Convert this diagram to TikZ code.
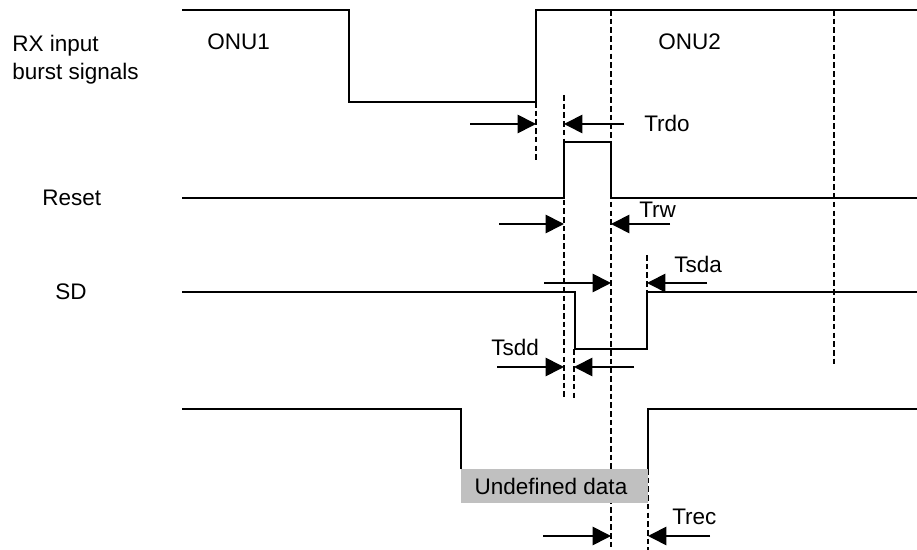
\documentclass[tikz,border=0pt]{standalone}
\usepackage{fontspec}
\setmainfont{Liberation Sans}
\usepackage{tikz}
\usetikzlibrary{arrows.meta}
\definecolor{undefgray}{RGB}{192,192,192}
\tikzset{
  wave/.style={line width=1.4pt},
  tmark/.style={line width=1.3pt,dash pattern=on 4pt off 2.2pt},
  dimarr/.style={line width=1.2pt,-{Triangle[length=13pt,width=13pt]}},
  lbl/.style={font=\fontsize{16}{20}\selectfont,inner sep=0pt,anchor=base west},
}

\begin{document}
\begin{tikzpicture}[x=0.025cm,y=-0.025cm]
  \useasboundingbox (0,0) rectangle (917,550);
  % time marks
  \draw[tmark] (611,10) -- (611,550);
  \draw[tmark] (834,10) -- (834,365);
  \draw[tmark] (536,102) -- (536,160);
  \draw[tmark] (564,95) -- (564,398);
  \draw[tmark] (574,349) -- (574,398);
  \draw[tmark] (647,255) -- (647,292);
  \draw[tmark] (648,469) -- (648,550);
  % undefined data window
  \fill[undefgray] (461,469) rectangle (648,503);
  \node[lbl,anchor=center] (undef) at (551,486) {Undefined data};
  % waveforms
  \draw[wave] (182,10) -- (349,10) -- (349,102) -- (536,102) -- (536,10) -- (917,10);
  \draw[wave] (182,198) -- (564,198) -- (564,142) -- (611,142) -- (611,198) -- (917,198);
  \draw[wave] (182,292) -- (575,292) -- (575,349) -- (647,349) -- (647,292) -- (917,292);
  \draw[wave] (182,409) -- (461,409) -- (461,469);
  \draw[wave] (648,469) -- (648,409) -- (917,409);
  % timing arrows
  \draw[dimarr] (470,124) -- (536,124);
  \draw[dimarr] (624,124) -- (564,124);
  \draw[dimarr] (499,224) -- (564,224);
  \draw[dimarr] (670,224) -- (611,224);
  \draw[dimarr] (544,283) -- (611,283);
  \draw[dimarr] (707,283) -- (647,283);
  \draw[dimarr] (497,367) -- (564,367);
  \draw[dimarr] (634,367) -- (574,367);
  \draw[dimarr] (543,536) -- (611,536);
  \draw[dimarr] (710,536) -- (648,536);
  % labels
  \node[lbl,align=left] (rxlbl) at (12,80) {RX input\\burst signals};
  \node[lbl] (resetlbl) at (42,206) {Reset};
  \node[lbl] (sdlbl) at (55,300) {SD};
  \node[lbl] (onuA) at (207,50) {ONU1};
  \node[lbl] (onuB) at (658,50) {ONU2};
  \node[lbl] (trdo) at (644,132) {Trdo};
  \node[lbl] (trw) at (639,218) {Trw};
  \node[lbl] (tsda) at (674,273) {Tsda};
  \node[lbl] (tsdd) at (491,356) {Tsdd};
  \node[lbl] (trec) at (672,525) {Trec};
\end{tikzpicture}
\end{document}
